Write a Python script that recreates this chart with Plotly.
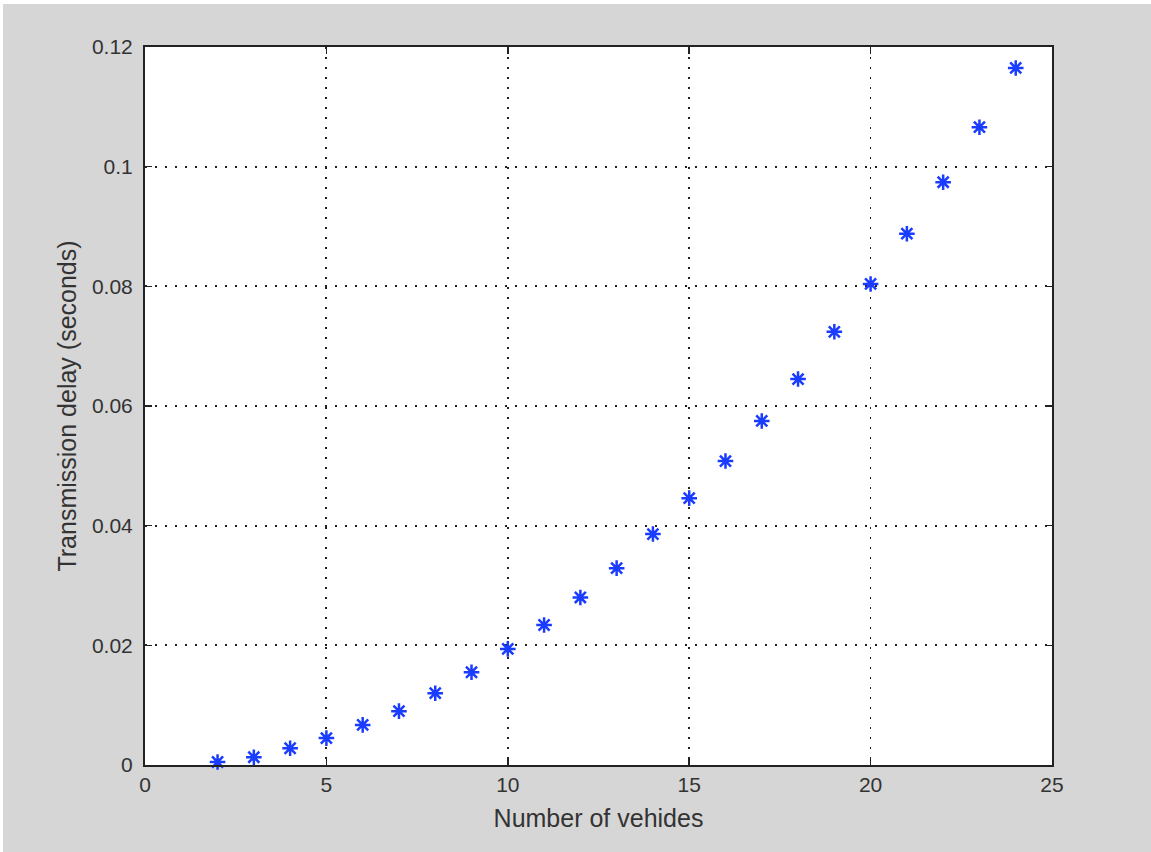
import plotly.graph_objects as go

vehicles = [2, 3, 4, 5, 6, 7, 8, 9, 10, 11, 12, 13, 14, 15, 16, 17, 18, 19, 20, 21, 22, 23, 24]
delay = [0.0005, 0.0013, 0.0028, 0.0045, 0.0067, 0.0090, 0.0120, 0.0155, 0.0194, 0.0234,
         0.0280, 0.0329, 0.0386, 0.0446, 0.0508, 0.0575, 0.0645, 0.0724, 0.0804, 0.0888,
         0.0974, 0.1066, 0.1165]
x_ticks = [0, 5, 10, 15, 20, 25]
y_ticks = [0, 0.02, 0.04, 0.06, 0.08, 0.1, 0.12]
y_tick_labels = ["0", "0.02", "0.04", "0.06", "0.08", "0.1", "0.12"]

fig = go.Figure()
fig.add_trace(go.Scatter(
    x=vehicles, y=delay, mode="markers",
    marker=dict(symbol="asterisk-open", size=13, color="#1a3cff",
                line=dict(color="#1a3cff", width=2.5)),
    cliponaxis=False, showlegend=False,
))

L, R, T, B = 145, 99, 47, 87
W, H = 1151, 852
pw, ph = W - L - R, H - T - B

# thin white border at top and left of the gray figure
fig.add_shape(type="rect", xref="paper", yref="paper",
              x0=-L / pw, x1=(W - L) / pw, y0=(ph + T - 4) / ph, y1=(ph + T + 2) / ph,
              fillcolor="white", line=dict(width=0), layer="below")
fig.add_shape(type="rect", xref="paper", yref="paper",
              x0=(-L - 2) / pw, x1=(3 - L) / pw, y0=-(B + 2) / ph, y1=(ph + T + 2) / ph,
              fillcolor="white", line=dict(width=0), layer="below")

FONT = "Liberation Sans, Arial, sans-serif"
axis_common = dict(
    showline=True, linecolor="#222", linewidth=2, mirror="ticks",
    ticks="inside", ticklen=7, tickwidth=1.5, tickcolor="#222",
    showgrid=True, gridcolor="#222", gridwidth=1.8, griddash="2px,8px",
    zeroline=False,
    tickfont=dict(family=FONT, size=21, color="#333"),
    title_font=dict(family=FONT, size=25, color="#333"),
)

fig.update_xaxes(range=[0, 25], tickvals=x_ticks, ticktext=[str(v) for v in x_ticks],
                 title_text="Number of vehides", title_standoff=14, **axis_common)
fig.update_yaxes(range=[0, 0.12], tickvals=y_ticks, ticktext=y_tick_labels,
                 title_text="Transmission delay (seconds)", title_standoff=8,
                 ticklabelstandoff=6, **axis_common)

fig.update_layout(
    width=W, height=H, autosize=False,
    margin=dict(l=L, r=R, t=T, b=B, pad=0),
    paper_bgcolor="#d6d6d6", plot_bgcolor="white",
)

fig.write_html(
    "out.html",
    config={"displayModeBar": False, "staticPlot": True},
    post_script="document.body.style.margin='0';document.body.style.overflow='hidden';"
                "document.body.style.background='#d6d6d6';"
                "document.documentElement.style.background='#d6d6d6';",
)
